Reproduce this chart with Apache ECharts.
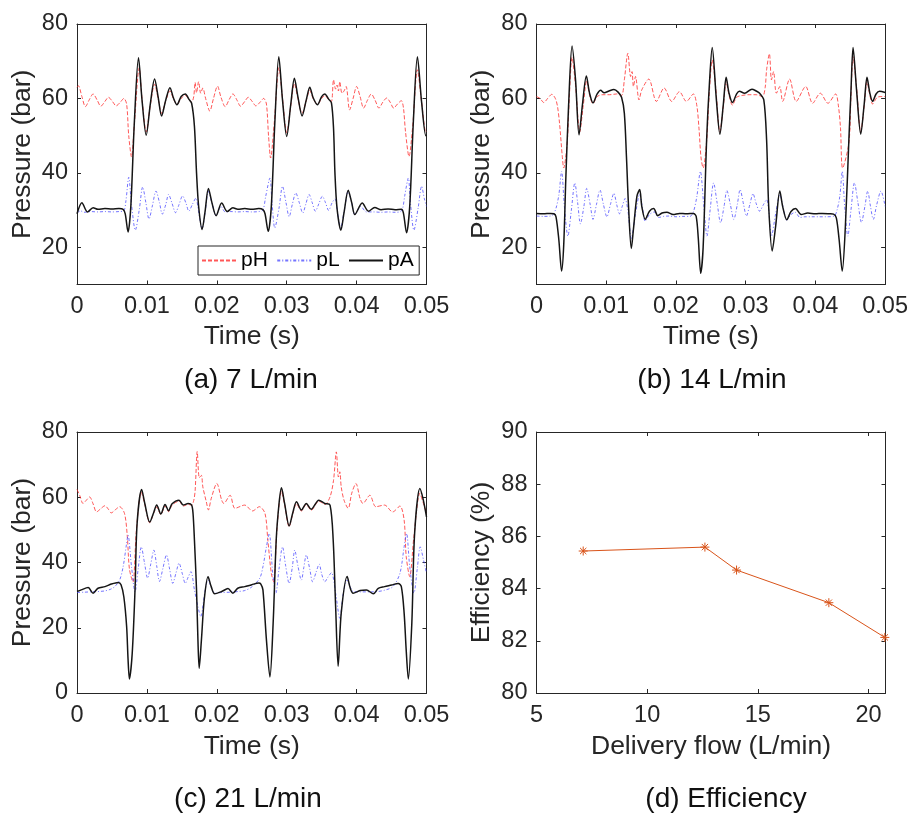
<!DOCTYPE html>
<html>
<head>
<meta charset="utf-8">
<script src="https://cdn.jsdelivr.net/npm/echarts@6/dist/echarts.min.js"></script>
<style>html,body{margin:0;padding:0;background:#fff}#c{width:911px;height:815px}</style>
</head>
<body>
<div id="c"></div>
<script>
// ---------- tick labels ----------
const timeTicks = [0, 0.01, 0.02, 0.03, 0.04, 0.05];
const pressTicksAB = [20, 40, 60, 80];
const pressTicksC = [0, 20, 40, 60, 80];
const flowTicks = [5, 10, 15, 20];
const effTicks = [80, 82, 84, 86, 88, 90];
const seriesNames = ['pH', 'pL', 'pA'];
const captions = ['(a) 7 L/min', '(b) 14 L/min', '(c) 21 L/min', '(d) Efficiency'];

// ---------- (a) 7 L/min : [time s, pressure bar] ----------
const aPH = [[0,63.0],[0.0002,63.4],[0.0007,60.5],[0.0012,57.8],[0.0018,59.8],[0.0023,61.2],[0.0029,59.5],[0.0034,57.9],[0.004,59.2],[0.0045,60.3],[0.0051,59.1],[0.0056,58.0],[0.0062,59.0],[0.0067,60.0],[0.0071,58.5],[0.0074,50.0],[0.0078,44.3],[0.0082,53.0],[0.0089,68.2],[0.0093,60.0],[0.0099,51.0],[0.0105,58.3],[0.0111,63.8],[0.0116,60.0],[0.0121,56.0],[0.0127,59.4],[0.0133,62.0],[0.0138,59.9],[0.0143,58.4],[0.0149,60.0],[0.0155,60.8],[0.016,59.7],[0.0164,59.0],[0.0167,60.5],[0.0169,64.3],[0.0171,61.5],[0.0174,64.5],[0.0177,61.4],[0.018,62.8],[0.0184,60.0],[0.019,56.6],[0.0195,59.8],[0.0201,63.3],
[0.0206,60.3],[0.0212,57.8],[0.0218,59.8],[0.0223,61.2],[0.0229,59.5],[0.0234,57.9],[0.024,59.2],[0.0245,60.3],[0.0251,59.1],[0.0256,58.0],[0.0262,59.0],[0.0267,60.0],[0.0271,58.5],[0.0274,50.0],[0.0277,44.0],[0.0282,53.0],[0.0289,68.3],[0.0294,60.0],[0.03,50.8],[0.0306,58.3],[0.0311,64.0],[0.0316,60.0],[0.0322,56.0],[0.0328,59.4],[0.0333,62.2],[0.0338,59.9],[0.0344,58.4],[0.035,60.0],[0.03545,60.8],[0.036,59.7],[0.0364,59.2],[0.0367,65.0],[0.037,62.5],[0.0372,63.6],[0.0374,62.0],[0.0376,64.5],[0.0379,61.4],[0.0382,62.0],[0.0385,63.2],[0.039,56.9],[0.0395,60.0],[0.04,63.2],
[0.0405,60.5],[0.041,57.4],[0.04155,59.5],[0.0421,61.2],[0.04265,59.5],[0.0432,57.4],[0.04375,59.0],[0.0443,60.1],[0.0448,59.0],[0.0453,57.4],[0.04585,58.5],[0.0464,59.4],[0.0467,57.5],[0.047,51.0],[0.0475,44.4],[0.048,52.0],[0.0487,67.7],[0.0493,59.0],[0.0499,51.0],[0.05,51.2]];
const aPL = [[0,29.2],[0.0005,29.8],[0.001,29.4],[0.002,29.6],[0.003,29.5],[0.004,29.6],[0.005,29.5],[0.006,29.6],[0.0067,29.8],[0.007,32.5],[0.0074,38.8],[0.0078,31.5],[0.00835,24.6],[0.0089,30.0],[0.0094,36.2],[0.00985,32.0],[0.0103,27.6],[0.0108,31.3],[0.0113,35.1],[0.0118,32.0],[0.0122,28.9],[0.0127,31.5],[0.0131,34.2],[0.0136,31.8],[0.0141,29.3],[0.0146,31.5],[0.0151,33.8],[0.0156,31.8],[0.016,29.7],[0.0165,31.5],[0.017,33.2],[0.0174,29.5],[0.0179,25.0],[0.0183,29.0],[0.0188,35.0],[0.0193,32.0],[0.0199,28.6],
[0.0206,31.0],[0.0212,29.5],[0.022,29.6],[0.023,29.5],[0.024,29.6],[0.025,29.5],[0.026,29.6],[0.0266,30.0],[0.027,33.7],[0.0276,38.6],[0.0279,32.0],[0.0283,25.2],[0.0289,30.5],[0.0294,36.4],[0.0299,32.0],[0.03035,28.2],[0.0308,31.5],[0.0313,34.6],[0.0318,32.0],[0.0323,29.2],[0.03275,31.7],[0.0332,34.2],[0.03365,32.0],[0.0341,29.7],[0.0346,31.7],[0.0351,33.7],[0.03555,32.0],[0.036,29.9],[0.0365,32.0],[0.0369,33.0],[0.0373,29.0],[0.0377,25.2],[0.0382,29.5],[0.0388,35.0],[0.0393,32.0],[0.03975,28.8],
[0.0406,31.0],[0.0414,29.5],[0.0425,29.5],[0.0435,29.4],[0.0445,29.5],[0.0455,29.4],[0.0463,29.6],[0.0466,30.5],[0.0469,34.0],[0.0474,38.6],[0.0477,32.0],[0.0482,24.6],[0.0488,30.5],[0.0493,36.4],[0.0497,33.0],[0.05,31.0]];
const aPA = [[0,29.0],[0.0007,32.0],[0.0015,29.5],[0.0023,30.6],[0.003,30.2],[0.004,30.4],[0.005,30.3],[0.006,30.4],[0.0066,30.2],[0.0069,29.0],[0.0073,24.1],[0.0077,31.0],[0.0082,53.4],[0.0088,70.9],[0.0093,59.6],[0.0099,50.1],[0.0105,58.7],[0.0111,65.2],[0.0116,60.5],[0.0121,55.3],[0.0127,59.6],[0.0133,62.9],[0.0138,60.1],[0.0143,58.3],[0.0149,60.5],[0.0155,61.2],[0.016,59.8],[0.0164,58.7],[0.0168,52.5],[0.0171,40.0],[0.0174,31.0],[0.0179,24.8],[0.0183,29.3],[0.0188,35.8],[0.0193,32.0],[0.0199,28.5],
[0.0207,31.9],[0.0215,29.6],[0.0223,30.6],[0.023,30.2],[0.024,30.4],[0.025,30.2],[0.026,30.4],[0.0266,30.1],[0.0269,29.0],[0.02735,24.3],[0.0278,31.0],[0.0283,53.4],[0.02887,71.2],[0.0294,59.6],[0.03,49.8],[0.0306,58.7],[0.0311,65.4],[0.0316,60.5],[0.0322,55.3],[0.0328,59.6],[0.0333,63.0],[0.0338,60.1],[0.0344,58.3],[0.035,60.5],[0.03545,61.2],[0.036,59.8],[0.0364,58.8],[0.0367,52.0],[0.0369,40.0],[0.0372,30.5],[0.03775,24.6],[0.0382,29.3],[0.0388,35.3],[0.0393,32.0],[0.03975,28.8],
[0.0408,31.9],[0.0417,29.7],[0.0426,30.7],[0.0435,30.1],[0.0445,30.3],[0.0455,30.1],[0.0464,30.2],[0.0467,29.2],[0.04714,23.9],[0.0476,31.0],[0.0481,53.0],[0.0487,71.2],[0.0493,59.0],[0.0499,50.0],[0.05,50.2]];

// ---------- (b) 14 L/min ----------
const bPH = [[0,60.5],[0.0005,60.0],[0.00105,58.9],[0.0016,60.0],[0.0022,61.1],[0.0027,60.0],[0.003,58.0],[0.0033,53.4],[0.0037,44.4],[0.0039,41.3],[0.0044,48.0],[0.0047,60.0],[0.0051,71.0],[0.0056,63.5],[0.0062,51.0],[0.0067,58.0],[0.0072,64.8],[0.0076,61.0],[0.0081,58.6],[0.0087,60.5],[0.0095,61.0],[0.0105,61.0],[0.0115,61.2],[0.0122,60.8],[0.0126,65.0],[0.0131,72.1],[0.0135,65.9],[0.0137,67.2],[0.0139,63.2],[0.0142,65.9],[0.0147,59.6],[0.0151,62.3],[0.0161,65.2],[0.0172,59.2],[0.0183,62.8],[0.0194,59.2],[0.0205,61.8],
[0.0215,59.2],[0.0225,61.2],[0.023,58.0],[0.0233,52.0],[0.0236,44.0],[0.0239,41.3],[0.0244,48.5],[0.0248,62.0],[0.0252,70.3],[0.0257,63.0],[0.0263,51.0],[0.0268,58.0],[0.0272,64.5],[0.0276,61.0],[0.0281,58.2],[0.0287,60.3],[0.0295,60.8],[0.0305,61.0],[0.0315,61.0],[0.0324,60.5],[0.0328,63.0],[0.033,67.7],[0.0334,72.0],[0.0337,65.0],[0.034,67.2],[0.0344,61.4],[0.0349,63.2],[0.0353,59.2],[0.0363,65.2],[0.03725,59.2],[0.0386,63.2],[0.0396,58.7],
[0.0407,61.4],[0.0418,58.7],[0.0429,61.2],[0.0433,58.0],[0.0436,52.0],[0.0439,41.3],[0.0448,48.0],[0.0451,60.5],[0.0454,71.2],[0.0459,63.0],[0.0465,51.0],[0.047,58.0],[0.0474,64.5],[0.0478,61.0],[0.0482,58.5],[0.0488,60.2],[0.0493,60.5],[0.05,60.5]];
const bPL = [[0,28.4],[0.001,28.3],[0.002,28.4],[0.0024,28.8],[0.0028,30.5],[0.0032,34.0],[0.0036,40.4],[0.004,31.0],[0.0045,23.0],[0.005,30.0],[0.0055,37.3],[0.0059,32.0],[0.0063,26.3],[0.0068,31.0],[0.0072,35.8],[0.0077,31.5],[0.0081,27.5],[0.0086,31.5],[0.0091,35.4],[0.0096,31.5],[0.0101,28.2],[0.0106,31.5],[0.0111,34.5],[0.0115,31.5],[0.0119,29.0],[0.0123,31.0],[0.0127,33.1],[0.0131,30.0],[0.0136,22.4],[0.0142,29.0],[0.0148,34.3],[0.0152,30.5],[0.0156,27.0],[0.0162,28.8],[0.0169,29.5],[0.0175,28.0],[0.0182,28.3],[0.019,28.4],[0.02,28.2],
[0.021,28.3],[0.022,28.3],[0.0225,29.5],[0.023,33.7],[0.0235,40.4],[0.024,31.0],[0.02445,23.0],[0.0249,30.0],[0.0254,37.3],[0.0259,32.0],[0.0264,26.6],[0.0269,31.0],[0.0273,35.3],[0.0278,31.5],[0.0283,27.5],[0.0288,31.5],[0.0292,35.5],[0.0297,31.5],[0.0301,28.4],[0.0306,31.5],[0.03105,34.4],[0.0315,31.8],[0.032,29.7],[0.0325,31.3],[0.033,32.8],[0.0333,30.0],[0.0337,23.0],[0.0343,29.0],[0.0349,34.1],[0.0354,30.5],[0.0359,27.3],[0.0365,28.8],[0.0371,29.4],[0.0378,28.0],[0.0385,28.2],[0.0395,28.2],[0.0405,28.2],
[0.0415,28.2],[0.0427,28.4],[0.0431,30.0],[0.0435,33.7],[0.04385,40.4],[0.0442,31.0],[0.04465,23.0],[0.0451,30.0],[0.0456,37.3],[0.0461,32.0],[0.0466,26.7],[0.0471,31.0],[0.0475,35.1],[0.0479,31.0],[0.0483,27.5],[0.0488,31.5],[0.0494,35.1],[0.05,31.0]];
const bPA = [[0,29.1],[0.001,29.0],[0.002,29.1],[0.0025,29.0],[0.0028,28.2],[0.0032,22.1],[0.0036,13.6],[0.0039,20.5],[0.0042,38.2],[0.0046,58.0],[0.0051,74.1],[0.0056,65.0],[0.0061,50.2],[0.0066,58.5],[0.00715,66.0],[0.0076,61.5],[0.0081,58.8],[0.0087,61.2],[0.0092,62.2],[0.0097,61.5],[0.0104,62.0],[0.0111,62.4],[0.0117,61.7],[0.0122,60.3],[0.0126,56.0],[0.0129,44.4],[0.0132,31.0],[0.0136,19.7],[0.0139,24.8],[0.0144,33.7],[0.0148,35.5],[0.0151,31.0],[0.0156,27.5],[0.0162,29.7],[0.0168,30.4],[0.0174,28.5],[0.018,29.2],[0.0187,29.4],[0.0196,28.8],[0.0205,29.1],
[0.0215,29.0],[0.0225,29.1],[0.0229,28.3],[0.0232,22.5],[0.02355,13.0],[0.0239,20.0],[0.0244,48.9],[0.0248,64.0],[0.0252,73.7],[0.0258,59.6],[0.0263,50.4],[0.0268,58.5],[0.0272,65.7],[0.0276,61.5],[0.0281,58.9],[0.0287,61.2],[0.0291,61.9],[0.02985,61.4],[0.0309,62.5],[0.0315,62.0],[0.032,61.4],[0.0326,59.6],[0.033,48.9],[0.0333,31.0],[0.0338,19.0],[0.0343,25.7],[0.0349,35.1],[0.0353,31.0],[0.0359,27.4],[0.0365,29.6],[0.03715,30.4],[0.03795,28.8],[0.0389,29.2],[0.04,29.0],
[0.041,29.1],[0.042,29.0],[0.0426,28.9],[0.043,27.9],[0.0434,22.1],[0.04385,13.6],[0.0443,25.7],[0.0448,48.9],[0.0451,62.0],[0.0454,73.7],[0.0459,62.3],[0.0465,50.4],[0.047,58.5],[0.0474,65.7],[0.0478,61.5],[0.0482,59.2],[0.0487,61.2],[0.0492,61.9],[0.05,61.6]];

// ---------- (c) 21 L/min ----------
const cPH = [[0,62.4],[0.0004,60.5],[0.00086,58.1],[0.0013,59.0],[0.0018,60.1],[0.0023,58.0],[0.0028,55.5],[0.0034,56.5],[0.004,57.4],[0.0045,56.3],[0.0049,55.2],[0.0055,56.2],[0.0061,57.1],[0.0068,55.0],[0.0072,47.9],[0.0075,38.0],[0.008,34.0],[0.0085,50.0],[0.0092,61.5],[0.0097,57.8],[0.0104,52.2],[0.011,55.3],[0.0114,57.0],[0.012,54.7],[0.0126,57.3],[0.0131,55.6],[0.0136,57.6],[0.0146,58.8],[0.0152,57.3],[0.0159,57.8],[0.0164,57.6],[0.0167,59.0],[0.0169,62.0],[0.0172,74.0],[0.0175,66.0],[0.0178,66.7],[0.018,63.2],[0.0185,58.6],[0.0188,56.1],[0.0192,59.6],[0.02,64.2],
[0.0207,59.1],[0.021,58.1],[0.0219,60.6],[0.0226,56.6],[0.024,57.6],[0.0251,55.8],[0.0261,57.1],[0.0269,55.0],[0.0273,46.9],[0.0278,36.7],[0.02815,34.0],[0.0286,50.0],[0.02925,61.8],[0.0297,57.8],[0.03035,51.0],[0.0309,55.2],[0.0314,58.0],[0.0321,55.8],[0.0328,57.8],[0.0335,56.0],[0.0346,58.8],[0.03545,57.8],[0.0362,60.1],[0.0367,65.2],[0.0371,73.9],[0.0374,66.2],[0.0376,67.8],[0.0378,63.2],[0.0382,59.1],[0.0388,56.6],[0.0393,61.2],[0.0399,64.2],
[0.0405,59.6],[0.0409,58.1],[0.0419,60.6],[0.04275,57.1],[0.044,57.6],[0.04515,55.5],[0.0462,57.3],[0.0468,53.0],[0.0471,41.8],[0.0476,35.7],[0.0482,48.0],[0.04905,61.2],[0.0495,58.5],[0.05,55.0]];
const cPL = [[0,30.8],[0.001,30.9],[0.002,31.0],[0.003,31.1],[0.004,31.3],[0.0048,31.8],[0.0054,32.6],[0.0061,34.6],[0.0066,38.7],[0.0071,45.9],[0.0073,48.4],[0.0078,38.7],[0.0083,31.0],[0.00875,38.0],[0.0092,44.8],[0.00965,40.0],[0.0101,35.2],[0.01055,39.5],[0.011,43.8],[0.0114,39.0],[0.0118,34.2],[0.0123,38.3],[0.0128,42.3],[0.01325,38.0],[0.0137,33.6],[0.01415,36.7],[0.0146,39.8],[0.01505,36.7],[0.0155,33.6],[0.0159,35.5],[0.0163,37.2],[0.0168,31.6],[0.0173,26.5],[0.0177,23.4],[0.0183,31.1],[0.01875,34.6],[0.0197,30.6],
[0.0207,30.8],[0.022,30.9],[0.023,31.1],[0.024,31.4],[0.025,32.5],[0.02615,35.2],[0.0266,38.7],[0.0271,44.8],[0.0275,48.9],[0.028,36.7],[0.02845,30.6],[0.0289,38.0],[0.0294,44.8],[0.02985,39.0],[0.03035,33.6],[0.0308,38.5],[0.03115,43.8],[0.0316,39.0],[0.0321,34.6],[0.03245,38.5],[0.0328,42.3],[0.0333,38.0],[0.0337,34.1],[0.0342,37.0],[0.03465,39.5],[0.035,36.5],[0.03545,34.1],[0.0359,35.5],[0.0364,36.9],[0.037,30.6],[0.0376,22.9],[0.0381,30.6],[0.03865,34.6],[0.0395,31.1],
[0.0405,31.0],[0.042,31.0],[0.043,31.1],[0.044,31.5],[0.0452,32.6],[0.0462,36.7],[0.0468,44.8],[0.04715,48.9],[0.0476,38.7],[0.0482,30.6],[0.0487,38.5],[0.0491,44.8],[0.0496,40.5],[0.05,36.7]];
const cPA = [[0,31.1],[0.0006,31.6],[0.0016,32.3],[0.0023,30.6],[0.003,32.1],[0.004,32.6],[0.0049,33.4],[0.0059,33.9],[0.0063,33.2],[0.0067,29.5],[0.0071,20.4],[0.0073,10.5],[0.0075,4.3],[0.0079,12.2],[0.0083,31.6],[0.0086,52.0],[0.00925,62.4],[0.0097,58.1],[0.0104,52.4],[0.011,55.5],[0.0114,57.6],[0.012,54.9],[0.0126,57.8],[0.0131,55.9],[0.0136,58.0],[0.0146,59.1],[0.0152,57.6],[0.0159,58.1],[0.0164,57.6],[0.0166,55.0],[0.0168,46.9],[0.0171,31.6],[0.0173,16.3],[0.01748,7.6],[0.0178,16.3],[0.0182,28.5],[0.01875,35.6],[0.0192,32.6],[0.0197,30.4],
[0.0207,31.1],[0.0216,32.0],[0.0223,30.6],[0.023,32.1],[0.024,32.6],[0.025,33.2],[0.026,33.7],[0.0263,33.4],[0.0266,31.6],[0.0271,16.3],[0.0276,4.9],[0.02806,21.4],[0.0285,46.9],[0.0289,58.0],[0.02925,62.9],[0.0297,58.1],[0.03035,51.2],[0.0309,55.5],[0.0314,58.6],[0.0321,56.1],[0.0328,58.1],[0.0335,56.3],[0.0346,59.1],[0.03545,58.1],[0.0362,57.6],[0.03665,46.9],[0.037,26.5],[0.03736,8.2],[0.0378,24.5],[0.03865,35.7],[0.0391,32.1],[0.0395,30.6],
[0.0405,31.4],[0.0414,31.6],[0.0424,30.4],[0.0431,32.1],[0.044,32.6],[0.045,33.1],[0.04595,33.6],[0.0464,32.6],[0.0468,24.5],[0.0471,13.0],[0.0474,4.3],[0.0479,21.4],[0.0483,48.9],[0.04905,62.7],[0.0495,59.6],[0.05,54.0]];

// ---------- (d) Efficiency ----------
const deliveryFlow = [7.11, 12.61, 14.04, 18.21, 20.74];
const efficiency = [85.44, 85.59, 84.71, 83.46, 82.13];
const flowMax = 20.77;

// ---------- styling ----------
const FONT = '"Liberation Sans", Arial, Helvetica, sans-serif';
const AXC = '#262626';
const FS_TICK = 23.5, FS_NAME = 26.5, FS_CAP = 28, FS_LEG = 21;
const grids = [
  {left: 77, top: 24, width: 349.5, height: 260.5},
  {left: 536.5, top: 24, width: 349, height: 260.5},
  {left: 77, top: 432, width: 349.5, height: 261},
  {left: 536.5, top: 432, width: 349, height: 261}
];
const capPos = [[251, 380], [712, 380], [248, 799], [726, 799]];
const xNameGap = [39, 39, 40, 40];

const xAxes = [], yAxes = [];
function addAxes(gi, xmin, xmax, xt, ymin, ymax, yt, xname, yname) {
  const line = {show: true, onZero: false, lineStyle: {color: AXC, width: 1}};
  const tick = (vals) => ({show: true, inside: true, length: 4, customValues: vals, lineStyle: {color: AXC, width: 1}});
  const txt = {color: AXC, fontSize: FS_TICK, fontFamily: FONT};
  const nameTxt = {color: AXC, fontSize: FS_NAME, fontFamily: FONT};
  xAxes.push({type: 'value', gridIndex: gi, min: xmin, max: xmax, position: 'bottom',
    axisLine: line, axisTick: tick(xt), splitLine: {show: false},
    axisLabel: Object.assign({customValues: xt, margin: 10.5, showMinLabel: true, showMaxLabel: true,
      formatter: v => String(v)}, txt),
    name: xname, nameLocation: 'middle', nameGap: xNameGap[gi], nameTextStyle: nameTxt});
  xAxes.push({type: 'value', gridIndex: gi, min: xmin, max: xmax, position: 'top',
    axisLine: line, axisTick: tick(xt), axisLabel: {show: false}, splitLine: {show: false}});
  yAxes.push({type: 'value', gridIndex: gi, min: ymin, max: ymax, position: 'left',
    axisLine: line, axisTick: tick(yt), splitLine: {show: false},
    axisLabel: Object.assign({customValues: yt, margin: 9, showMinLabel: true, showMaxLabel: true}, txt),
    name: yname, nameLocation: 'middle', nameGap: 41, nameRotate: 90, nameTextStyle: nameTxt});
  yAxes.push({type: 'value', gridIndex: gi, min: ymin, max: ymax, position: 'right',
    axisLine: line, axisTick: tick(yt), axisLabel: {show: false}, splitLine: {show: false}});
}
addAxes(0, 0, 0.05, timeTicks, 10, 80, pressTicksAB, 'Time (s)', 'Pressure (bar)');
addAxes(1, 0, 0.05, timeTicks, 10, 80, pressTicksAB, 'Time (s)', 'Pressure (bar)');
addAxes(2, 0, 0.05, timeTicks, 0, 80, pressTicksC, 'Time (s)', 'Pressure (bar)');
addAxes(3, 5, flowMax, flowTicks, 80, 90, effTicks, 'Delivery flow (L/min)', 'Efficiency (%)');

const styles = {
  pH: {color: 'rgba(255,45,45,0.8)', width: 1, type: [4, 2]},
  pL: {color: 'rgba(70,70,255,0.75)', width: 1, type: [3, 2, 1, 2]},
  pA: {color: '#151515', width: 1.5, type: 'solid'}
};
const panels = [[aPH, aPL, aPA], [bPH, bPL, bPA], [cPH, cPL, cPA]];
const series = [];
panels.forEach((arrs, gi) => {
  arrs.forEach((d, k) => {
    const nm = seriesNames[k];
    const st = styles[nm];
    series.push({
      name: nm, type: 'line', xAxisIndex: gi * 2, yAxisIndex: gi * 2, data: d,
      symbol: 'none', showSymbol: false, smooth: 0.3, color: st.color,
      lineStyle: {color: st.color, width: st.width, type: st.type},
      z: 2 + k, silent: true
    });
  });
});
series.push({
  name: 'Efficiency', type: 'line', xAxisIndex: 6, yAxisIndex: 6,
  data: deliveryFlow.map((f, i) => [f, efficiency[i]]),
  symbol: 'path://M5 0L5 10M0 5L10 5M1.5 1.5L8.5 8.5M1.5 8.5L8.5 1.5',
  symbolSize: 9, showSymbol: true, color: '#D95319',
  itemStyle: {color: '#D95319', borderColor: '#D95319', borderWidth: 1},
  lineStyle: {color: '#D95319', width: 1}, silent: true
});

const graphic = captions.map((t, i) => ({
  type: 'text', x: capPos[i][0], y: capPos[i][1],
  style: {text: t, align: 'center', verticalAlign: 'middle', textAlign: 'center', textVerticalAlign: 'middle',
    fontSize: FS_CAP, fontFamily: FONT, fill: '#111'}
}));

const chart = echarts.init(document.getElementById('c'), null, {renderer: 'canvas'});
chart.setOption({
  animation: false,
  backgroundColor: '#fff',
  grid: grids,
  xAxis: xAxes,
  yAxis: yAxes,
  legend: {
    data: seriesNames, left: 198, top: 246, orient: 'horizontal',
    itemWidth: 34, itemHeight: 12, itemGap: 8.4,
    padding: [4, 5.5, 4, 3], borderColor: AXC, borderWidth: 1, backgroundColor: '#fff',
    itemStyle: {opacity: 0},
    textStyle: {fontSize: FS_LEG, fontFamily: FONT, color: '#000'}, selectedMode: false
  },
  series: series,
  graphic: graphic
});
</script>
</body>
</html>
